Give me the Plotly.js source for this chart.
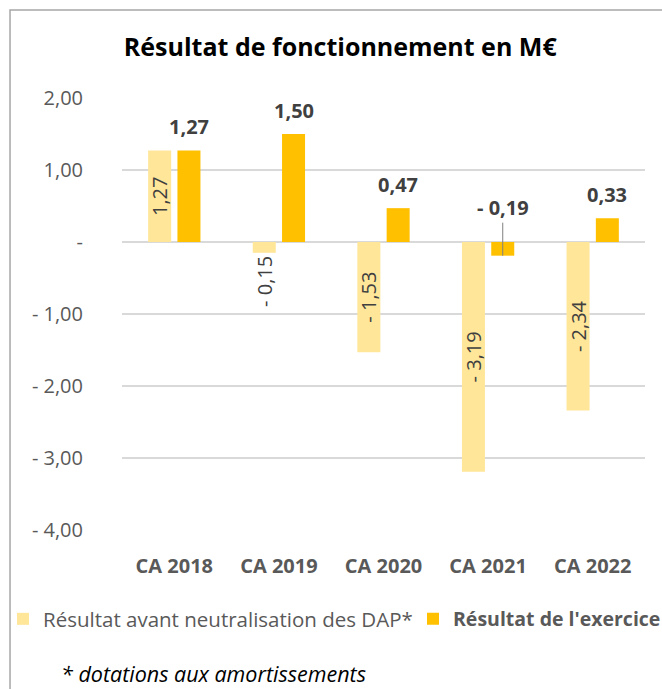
<!DOCTYPE html>
<html>
<head>
<meta charset="utf-8">
<script src="https://cdn.plot.ly/plotly-3.0.1.min.js"></script>
<style>html,body{margin:0;padding:0;background:#fff;}#chart{width:662px;height:689px;}</style>
</head>
<body>
<div id="chart"></div>
<script>
const categories = ["CA 2018", "CA 2019", "CA 2020", "CA 2021", "CA 2022"];
const avantNeutralisation = [1.27, -0.15, -1.53, -3.19, -2.34];
const resultatExercice = [1.27, 1.50, 0.47, -0.19, 0.33];
const seriesNames = ["Résultat avant neutralisation des DAP*", "<b>Résultat de l'exercice</b>"];
const yTickVals = [2, 1, 0, -1, -2, -3, -4];
const yTickText = ["2,00", "1,00", "-", "- 1,00", "- 2,00", "- 3,00", "- 4,00"];
const titleText = "<b>Résultat de fonctionnement en M€</b>";
const footnote = "<i>* dotations aux amortissements</i>";

function fmt(v) {
  const s = Math.abs(v).toFixed(2).replace('.', ',');
  return v < 0 ? '- ' + s : s;
}

const FONT = "Open Sans, sans-serif";
const LIGHT = "#FFE699", GOLD = "#FFC000";

const trace1 = {
  type: 'bar', name: seriesNames[0], x: categories, y: avantNeutralisation,
  marker: {color: LIGHT}, width: 0.22, offset: -0.25, legend: 'legend', showlegend: true,
  text: avantNeutralisation.map(fmt),
  textposition: avantNeutralisation.map(v => Math.abs(v) < 0.6 ? 'outside' : 'inside'),
  insidetextanchor: 'middle', textangle: -90, constraintext: 'none',
  textfont: {family: FONT, size: 20, color: '#404040'},
  cliponaxis: false, hoverinfo: 'skip'
};
const trace2 = {
  type: 'bar', name: seriesNames[1], x: categories, y: resultatExercice,
  marker: {color: GOLD}, width: 0.22, offset: 0.03, legend: 'legend2', showlegend: true,
  cliponaxis: false, hoverinfo: 'skip'
};

const annotations = resultatExercice.map((v, i) => {
  const base = {
    x: i + 0.14, y: v, xref: 'x', yref: 'y', text: '<b>' + fmt(v) + '</b>',
    font: {family: FONT, size: 20, color: '#404040'}
  };
  if (v >= 0) {
    return Object.assign(base, {showarrow: false, yanchor: 'middle', yshift: 24});
  }
  return Object.assign(base, {showarrow: true, arrowhead: 0, arrowwidth: 1,
    arrowcolor: '#7f7f7f', ax: 0, ay: -48, standoff: 0});
});
annotations.push({
  xref: 'paper', yref: 'paper', x: -0.1205, y: (530 - 673) / 432, xanchor: 'left', yanchor: 'middle',
  text: footnote, showarrow: false, font: {family: FONT, size: 21.5, color: '#000000'}
});

const legendStyle = (xpx, size) => ({
  visible: true, orientation: 'h', xref: 'container', x: xpx / 662, xanchor: 'left',
  yref: 'container', y: 1 - 619 / 689, yanchor: 'middle',
  font: {family: FONT, size: size, color: '#595959'},
  bgcolor: 'rgba(0,0,0,0)', borderwidth: 0
});

const layout = {
  width: 662, height: 689, autosize: false, showlegend: true,
  margin: {l: 122, r: 17, t: 98, b: 159, pad: 0},
  paper_bgcolor: '#ffffff', plot_bgcolor: '#ffffff',
  font: {family: FONT, color: '#595959'},
  title: {text: titleText, x: 0.514, xref: 'container', xanchor: 'center',
    y: 1 - 47 / 689, yref: 'container', yanchor: 'middle',
    font: {family: FONT, size: 25, color: '#000000'}},
  barmode: 'overlay',
  xaxis: {type: 'category', range: [-0.5, 4.5], showgrid: false, zeroline: false, showline: false,
    ticks: '', ticklabelstandoff: 22,
    tickfont: {family: FONT, size: 20, color: '#595959', weight: 'bold'}},
  yaxis: {range: [-4, 2], tickvals: yTickVals, ticktext: yTickText,
    showgrid: true, gridcolor: '#d9d9d9', gridwidth: 1.5, zeroline: false, showline: false,
    ticks: '', ticklabelstandoff: 38,
    tickfont: {family: FONT, size: 20, color: '#595959'}},
  legend: legendStyle(3, 20.5),
  legend2: legendStyle(413, 19.5),
  annotations: annotations,
  shapes: [{type: 'path', xref: 'paper', yref: 'paper', layer: 'above',
    path: 'M -0.2141,-0.37 L -0.2141,1.2037 L 1.04,1.2037',
    line: {color: '#a6a6a6', width: 1.5}}]
};

Plotly.newPlot('chart', [trace1, trace2], layout, {displayModeBar: false, staticPlot: true});
</script>
</body>
</html>
